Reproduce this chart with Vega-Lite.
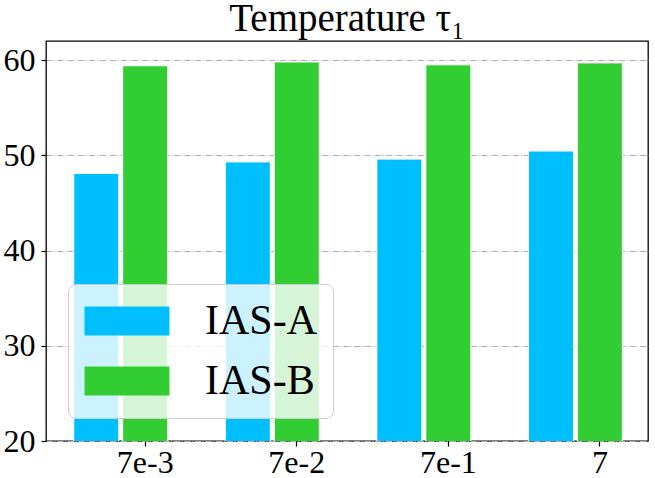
{
  "$schema": "https://vega.github.io/schema/vega-lite/v6.json",
  "autosize": {"type": "none"},
  "padding": {"left": 46, "top": 41, "right": 7, "bottom": 37},
  "width": 602,
  "height": 400,
  "background": "white",
  "title": {
    "text": "Temperature τ₁",
    "font": "'Liberation Serif', 'Times New Roman', Times, 'DejaVu Serif', serif",
    "fontSize": 39,
    "fontWeight": "normal",
    "color": "black",
    "anchor": "middle",
    "baseline": "alphabetic",
    "offset": 10,
    "dy": 39
  },
  "data": {
    "values": [
      {"temp": "7e-3", "method": "IAS-A", "value": 48.1},
      {"temp": "7e-3", "method": "IAS-B", "value": 59.4},
      {"temp": "7e-2", "method": "IAS-A", "value": 49.3},
      {"temp": "7e-2", "method": "IAS-B", "value": 59.8},
      {"temp": "7e-1", "method": "IAS-A", "value": 49.6},
      {"temp": "7e-1", "method": "IAS-B", "value": 59.5},
      {"temp": "7", "method": "IAS-A", "value": 50.45},
      {"temp": "7", "method": "IAS-B", "value": 59.7}
    ]
  },
  "mark": {"type": "bar", "clip": true, "stroke": "white", "strokeWidth": 1},
  "encoding": {
    "x": {
      "field": "temp",
      "type": "nominal",
      "sort": ["7e-3", "7e-2", "7e-1", "7"],
      "scale": {"paddingInner": 0.38, "paddingOuter": 0.176, "align": 0.52},
      "axis": {
        "title": null,
        "labelAngle": 0,
        "tickOffset": 24,
        "labelPadding": 1,
        "domain": false,
        "grid": false
      }
    },
    "xOffset": {
      "field": "method",
      "type": "nominal",
      "scale": {"paddingInner": 0.08, "paddingOuter": 0}
    },
    "y": {
      "field": "value",
      "type": "quantitative",
      "scale": {"domain": [20, 62], "zero": false, "nice": false},
      "axis": {
        "title": null,
        "values": [20, 30, 40, 50, 60],
        "labelPadding": 6,
        "domain": false,
        "grid": true,
        "gridColor": "#b0b0b0",
        "gridDash": [6.4, 1.6, 1, 1.6],
        "gridWidth": 1
      }
    },
    "color": {
      "field": "method",
      "type": "nominal",
      "scale": {"domain": ["IAS-A", "IAS-B"], "range": ["#00BFFF", "#32CD32"]},
      "legend": {
        "title": null,
        "orient": "none",
        "legendX": 22,
        "legendY": 243,
        "fillColor": "rgba(255,255,255,0.8)",
        "strokeColor": "#cccccc",
        "cornerRadius": 8,
        "padding": 16,
        "symbolType": "M-1,-1L4.86,-1L4.86,1L-1,1Z",
        "symbolSize": 841,
        "symbolOffset": -6,
        "symbolStrokeWidth": 0,
        "symbolOpacity": 1,
        "labelFont": "'Liberation Serif', 'Times New Roman', Times, 'DejaVu Serif', serif",
        "labelFontSize": 42,
        "labelColor": "black",
        "labelOffset": 85,
        "rowPadding": 18
      }
    }
  },
  "config": {
    "font": "'Liberation Serif', 'Times New Roman', Times, 'DejaVu Serif', serif",
    "view": {"stroke": "black", "strokeWidth": 1.3},
    "axis": {
      "labelFont": "'Liberation Serif', 'Times New Roman', Times, 'DejaVu Serif', serif",
      "labelFontSize": 32,
      "labelColor": "black",
      "tickSize": 5,
      "tickColor": "black",
      "tickWidth": 1.2
    }
  }
}
